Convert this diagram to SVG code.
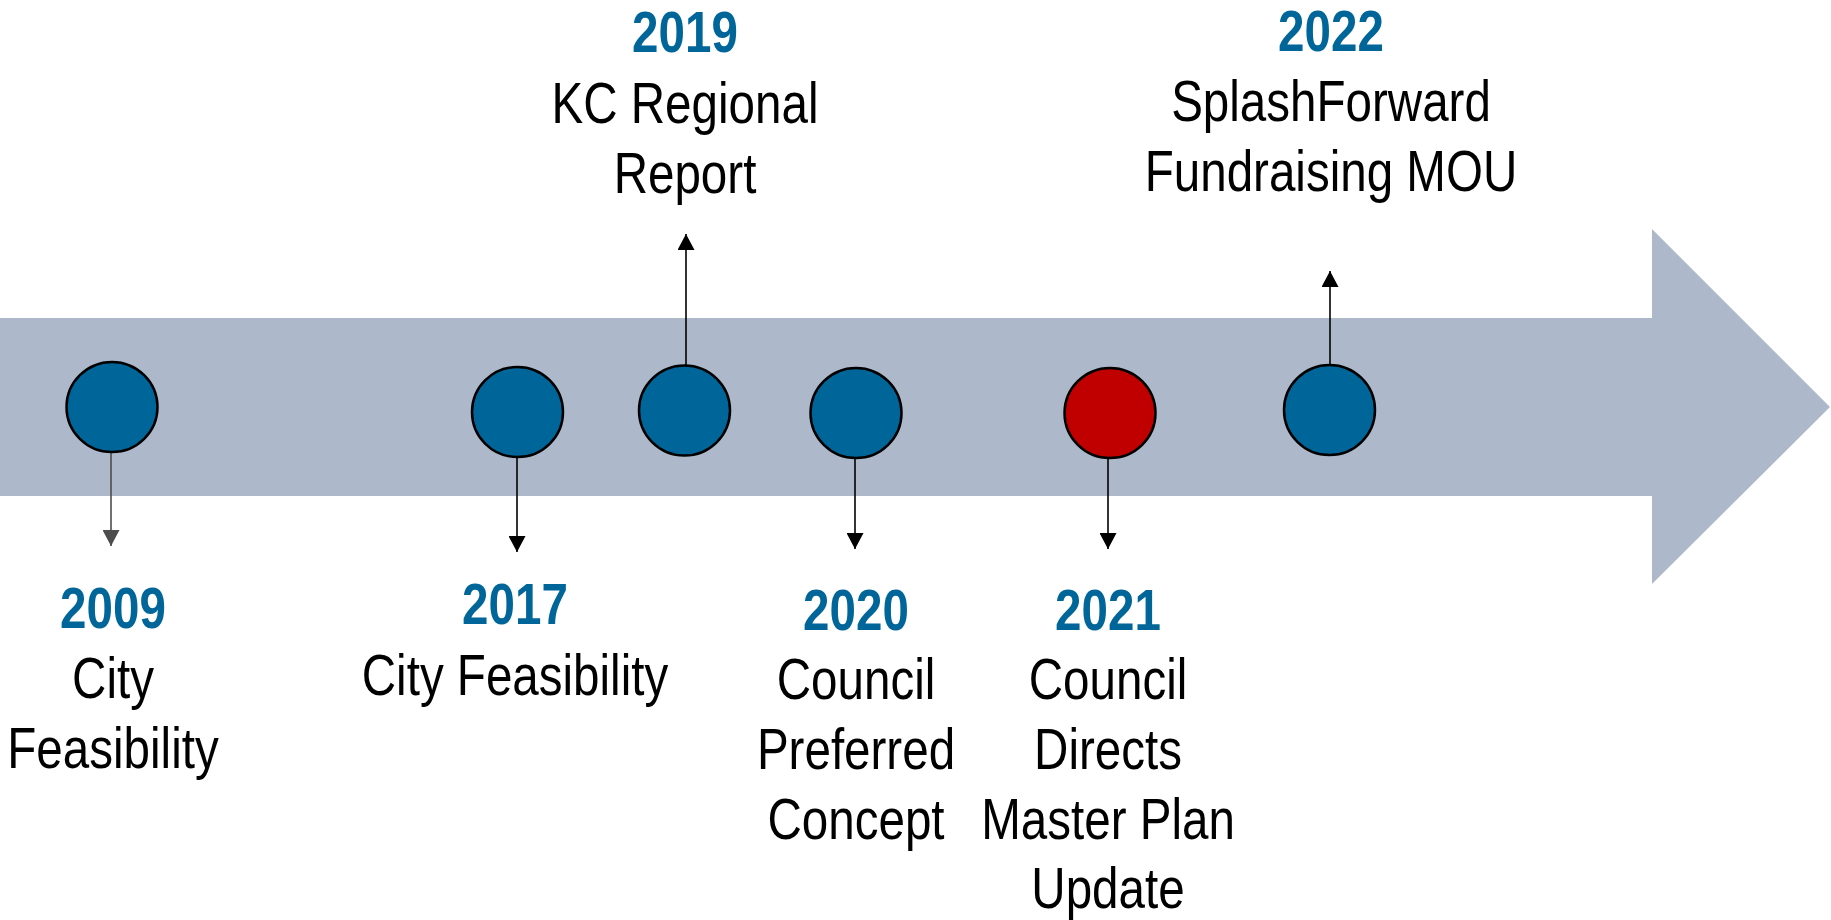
<svg xmlns="http://www.w3.org/2000/svg" width="1831" height="920" viewBox="0 0 1831 920">
<defs>
<marker id="ah" markerUnits="userSpaceOnUse" markerWidth="16" markerHeight="17" refX="16" refY="8.5" orient="auto">
<path d="M0,0 L16,8.5 L0,17 z" fill="#000"/>
</marker>
<marker id="ahg" markerUnits="userSpaceOnUse" markerWidth="16" markerHeight="17" refX="16" refY="8.5" orient="auto">
<path d="M0,0 L16,8.5 L0,17 z" fill="#4d4d4d"/>
</marker>
</defs>
<style>
.dot{fill:#006699;stroke:#000;stroke-width:2.5}
.red{fill:#c00000}
text{font-family:"Liberation Sans",Arial,sans-serif;font-size:58px;text-anchor:middle;fill:#000}
.yr{font-weight:bold;fill:#006699}
.c{stroke:#000;stroke-width:1.6;fill:none;marker-end:url(#ah)}
</style>
<rect width="1831" height="920" fill="#fff"/>
<polygon id="band" points="0,318 1652,318 1652,229 1830,407 1652,584 1652,496 0,496" fill="#adb9ca"/>
<g id="connectors">
<line class="c" x1="111" y1="452" x2="111" y2="546" stroke="#4d4d4d" style="stroke:#4d4d4d;marker-end:url(#ahg)"/>
<line class="c" x1="517" y1="457" x2="517" y2="552"/>
<line class="c" x1="686" y1="366" x2="686" y2="234"/>
<line class="c" x1="855" y1="458" x2="855" y2="549"/>
<line class="c" x1="1108" y1="458" x2="1108" y2="549"/>
<line class="c" x1="1330" y1="365" x2="1330" y2="271"/>
</g>
<g id="n2009">
<ellipse class="dot" cx="112" cy="407" rx="45.5" ry="45"/>
<g transform="translate(113,0) scale(0.82,1)">
<text class="yr" x="0" y="628">2009</text>
<text x="0" y="698">City</text>
<text x="0" y="768">Feasibility</text>
</g>
</g>
<g id="n2017">
<ellipse class="dot" cx="517.5" cy="412" rx="45.5" ry="45"/>
<g transform="translate(515,0) scale(0.82,1)">
<text class="yr" x="0" y="624">2017</text>
<text x="0" y="695">City Feasibility</text>
</g>
</g>
<g id="n2019">
<ellipse class="dot" cx="684.5" cy="410.5" rx="45.5" ry="45"/>
<g transform="translate(685,0) scale(0.82,1)">
<text class="yr" x="0" y="52">2019</text>
<text x="0" y="123">KC Regional</text>
<text x="0" y="193">Report</text>
</g>
</g>
<g id="n2020">
<ellipse class="dot" cx="856" cy="413" rx="45.5" ry="45"/>
<g transform="translate(856,0) scale(0.82,1)">
<text class="yr" x="0" y="630">2020</text>
<text x="0" y="699">Council</text>
<text x="0" y="769">Preferred</text>
<text x="0" y="839">Concept</text>
</g>
</g>
<g id="n2021">
<ellipse class="dot red" cx="1110" cy="413" rx="45.5" ry="45"/>
<g transform="translate(1108,0) scale(0.82,1)">
<text class="yr" x="0" y="630">2021</text>
<text x="0" y="699">Council</text>
<text x="0" y="769">Directs</text>
<text x="0" y="839">Master Plan</text>
<text x="0" y="908">Update</text>
</g>
</g>
<g id="n2022">
<ellipse class="dot" cx="1329.5" cy="410" rx="45.5" ry="45"/>
<g transform="translate(1331,0) scale(0.82,1)">
<text class="yr" x="0" y="51">2022</text>
<text x="0" y="121">SplashForward</text>
<text x="0" y="191">Fundraising MOU</text>
</g>
</g>
</svg>
